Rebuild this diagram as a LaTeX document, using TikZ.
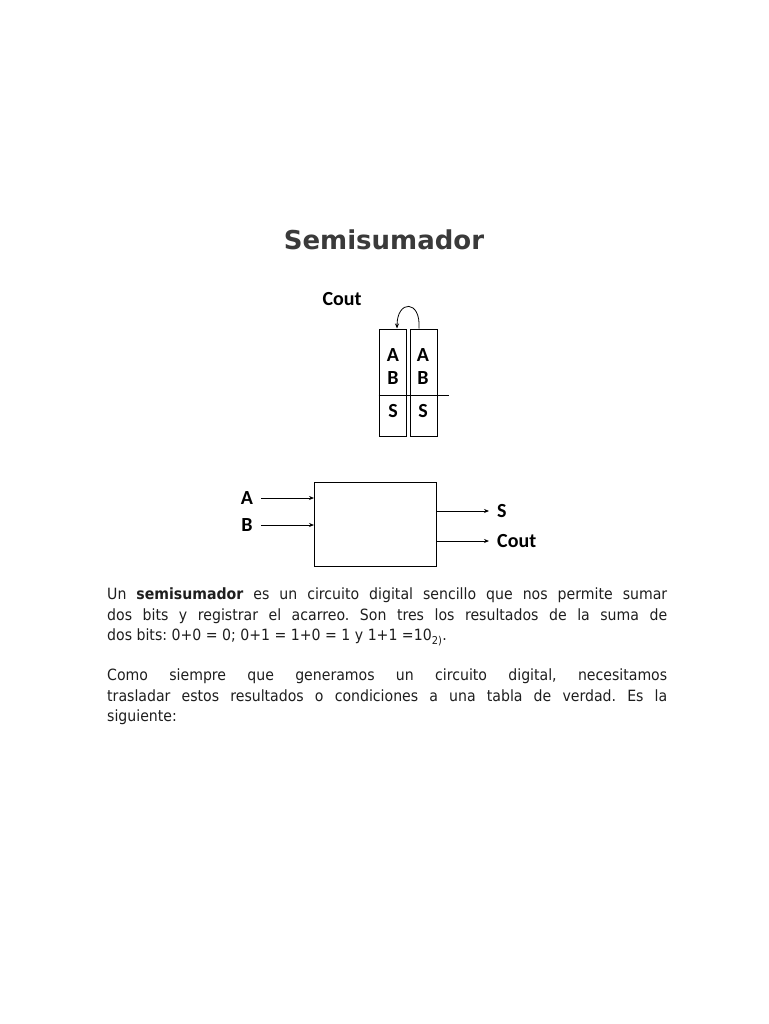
\documentclass[tikz,border=0pt]{standalone}
\usepackage{fontspec}
\setmainfont{DejaVu Sans}[FakeStretch=0.91]
\newfontfamily\titlefont{DejaVu Sans}
\newfontfamily\lblfont{Carlito}
\usetikzlibrary{arrows.meta, positioning, calc}
\definecolor{txtgray}{HTML}{1E1E1E}
\definecolor{headgray}{HTML}{3A3A3A}
\frenchspacing

\tikzset{
    lbl/.style={font=\lblfont\bfseries\fontsize{20}{20}\selectfont, inner sep=0pt},
    bitcol/.style={draw, line width=1pt, minimum width=27pt, minimum height=107pt, inner sep=0pt},
    sig/.style={-{Stealth[length=5pt,width=4pt]}, line width=0.8pt},
    para/.style={font=\fontsize{15.5}{20.5}\selectfont, txtgray, text width=560pt, align=justify, inner sep=0pt, anchor=north west},
}

\begin{document}
\begin{tikzpicture}[x=1pt,y=-1pt]
    \useasboundingbox (0,0) rectangle (768,1024);
    % Title
    \node[font=\titlefont\bfseries\fontsize{26}{30}\selectfont, headgray] (title) at (384,240) {Semisumador};
    % === TOP: two bit columns with carry ===
    \node[lbl] (coutTop) at (342,299) {Cout};
    \node[bitcol] (colL) at (392.5,382.5) {};
    \node[bitcol] (colR) at (423.5,382.5) {};
    \foreach \cx/\cn in {393/L, 423/R} {
        \node[lbl] (a\cn) at (\cx,355) {A};
        \node[lbl] (b\cn) at (\cx,378) {B};
        \node[lbl] (s\cn) at (\cx,411) {S};
    }
    \coordinate (sumEnd) at (449,395);
    \draw[line width=1pt] (sumEnd -| colL.west) -- (sumEnd);
    \draw[sig] ([xshift=-4.5pt]colR.north) .. controls +(2,-29) and +(0,-29) .. ([xshift=4.5pt]colL.north);
    % === BOTTOM: half adder block ===
    \node[draw, line width=1pt, minimum width=122pt, minimum height=84pt, inner sep=0pt] (blk) at (375.5,524) {};
    \node[lbl] (inA) at (247,498) {A};
    \node[lbl] (inB) at (247,525) {B};
    \node[lbl, anchor=west] (outS) at (497,511) {S};
    \node[lbl, anchor=west] (outC) at (497,541) {Cout};
    \draw[sig] ([xshift=8pt]inA.east) -- (blk.west |- inA);
    \draw[sig] ([xshift=8pt]inB.east) -- (blk.west |- inB);
    \draw[sig] (blk.east |- outS) -- ([xshift=-8pt]outS.west);
    \draw[sig] (blk.east |- outC) -- ([xshift=-8pt]outC.west);
    % === Text ===
    \node[para] (p1) at (107,588) {Un \textbf{semisumador} es un circuito digital sencillo que nos permite sumar\linebreak dos bits y registrar el acarreo. Son tres los resultados de la suma de\linebreak dos bits: 0+0 = 0; 0+1 = 1+0 = 1 y 1+1 =10\textsubscript{2)}.};
    \node[para] (p2) at (107,669) {Como siempre que generamos un circuito digital, necesitamos\linebreak trasladar estos resultados o condiciones a una tabla de verdad. Es la\linebreak siguiente:};
\end{tikzpicture}
\end{document}
